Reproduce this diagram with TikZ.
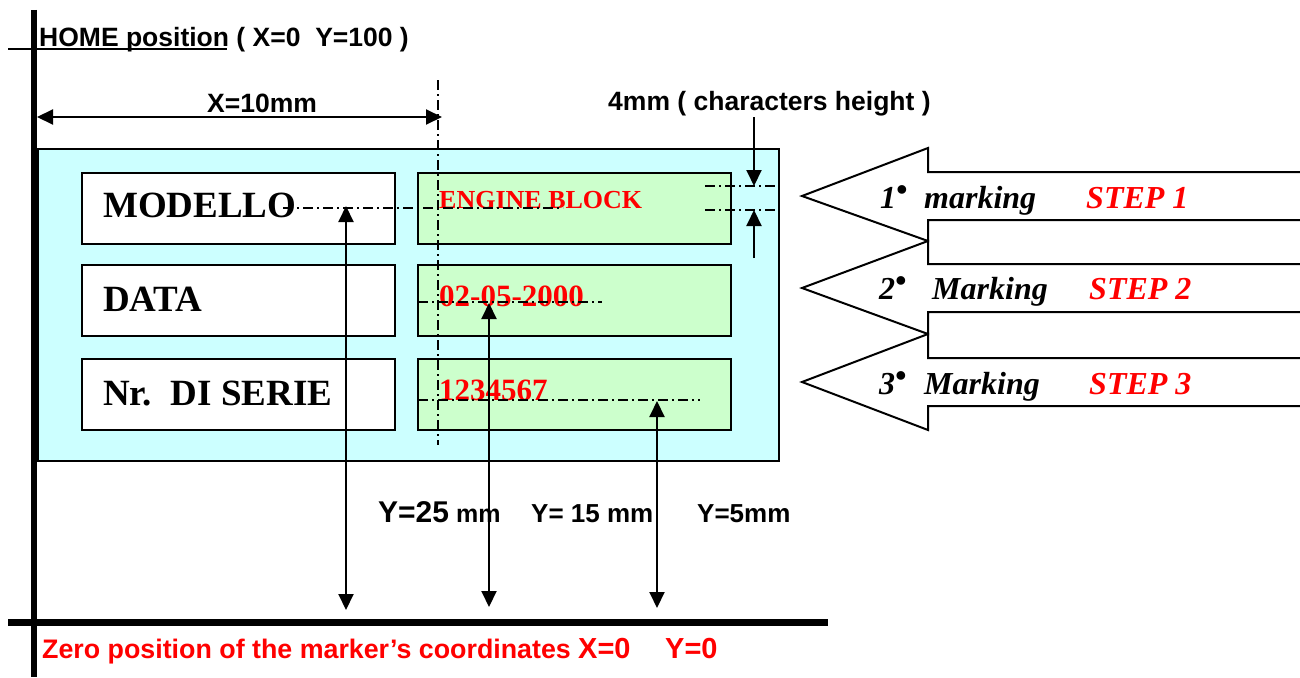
\documentclass[tikz,border=0pt]{standalone}
\usepackage{fontspec}
\setmainfont{Liberation Serif}
\setsansfont{Liberation Sans}
\usetikzlibrary{arrows.meta}
\definecolor{cyanbg}{HTML}{CCFFFF}
\definecolor{greenbg}{HTML}{CCFFCC}
\definecolor{redtxt}{HTML}{FF0000}
\newcommand{\fsz}[1]{\fontsize{#1pt}{#1pt}\selectfont}
\begin{document}
\begin{tikzpicture}[x=1pt,y=-1pt,
  tip/.style={-{Triangle[length=16pt,width=15pt]}},
  dtip/.style={{Triangle[length=16pt,width=15pt]}-{Triangle[length=16pt,width=15pt]}},
  conn/.style={line width=2pt},
  dashdot/.style={line width=1.5pt, dash pattern=on 10pt off 4pt on 2pt off 4pt},
  axisline/.style={line width=7pt},
  panelbox/.style={draw, line width=2pt, fill=cyanbg, inner sep=0, anchor=north west, minimum width=741pt, minimum height=312pt},
  fieldbox/.style={draw, line width=2pt, fill=white, inner sep=0, anchor=north west, minimum width=313pt, minimum height=71pt},
  valbox/.style={fieldbox, fill=greenbg},
  lbl/.style={inner sep=0, anchor=base west},
  fieldtxt/.style={lbl, font=\fsz{37}\bfseries},
  valtxt/.style={lbl, text=redtxt, font=\bfseries},
  sanstxt/.style={lbl, font=\sffamily\bfseries\fsz{26.5}},
  redsans/.style={lbl, text=redtxt, font=\sffamily\bfseries},
  steparrow/.style={line width=2pt, fill=white},
  stepnum/.style={lbl, font=\fsz{32}\bfseries\itshape},
  stepred/.style={lbl, text=redtxt, font=\fsz{32}\bfseries\itshape}
]
\useasboundingbox (0,0) rectangle (1300,677);

% panel and boxes
\node[panelbox] (panel) at (37,148) {};
\node[fieldbox] (f1) at (81,172) {};
\node[fieldbox] (f2) at (81,264) {};
\node[fieldbox] (f3) at (81,358) {};
\node[valbox] (v1) at (417,172) {};
\node[valbox] (v2) at (417,264) {};
\node[valbox] (v3) at (417,358) {};

% field texts
\node[fieldtxt] (t1) at (103,217) {MODELLO};
\node[fieldtxt] (t2) at (103,311) {DATA};
\node[fieldtxt] (t3) at (103,405) {Nr.\ \ DI SERIE};
\node[valtxt, font=\fsz{26}\bfseries] (w1) at (439,208) {ENGINE BLOCK};
\node[valtxt, font=\fsz{31}\bfseries] (w2) at (439,306) {02-05-2000};
\node[valtxt, font=\fsz{31}\bfseries] (w3) at (439,400) {1234567};

% step arrows
\draw[steparrow] (1305,172) -- (928,172) -- (928,148) -- (802,196) -- (928,241) -- (928,220) -- (1305,220);
\draw[steparrow] (1305,264) -- (928,264) -- (928,241) -- (802,288) -- (928,334) -- (928,312) -- (1305,312);
\draw[steparrow] (1305,358) -- (928,358) -- (928,334) -- (802,382) -- (928,430) -- (928,406) -- (1305,406);
\node[stepnum] (n1) at (880,208) {1\raisebox{0.25em}{\textbullet}};
\node[stepnum] (m1) at (924,208) {marking};
\node[stepred] (s1) at (1086,208) {STEP 1};
\node[stepnum] (n2) at (879,299) {2\raisebox{0.25em}{\textbullet}};
\node[stepnum] (m2) at (932,299) {Marking};
\node[stepred] (s2) at (1089,299) {STEP 2};
\node[stepnum] (n3) at (879,394) {3\raisebox{0.25em}{\textbullet}};
\node[stepnum] (m3) at (924,394) {Marking};
\node[stepred] (s3) at (1089,394) {STEP 3};

% sans labels
\node[sanstxt] (home) at (39,47) {HOME position ( X=0\ \ Y=100 )};
\node[sanstxt] (x10) at (207,112) {X=10mm};
\node[sanstxt] (h4) at (608,110) {4mm ( characters height )};
\node[lbl, font=\sffamily\bfseries] (y25) at (378,522) {\fsz{30}Y=25\fsz{25} mm};
\node[lbl, font=\sffamily\bfseries\fsz{26}] (y15) at (531,522) {Y= 15 mm};
\node[lbl, font=\sffamily\bfseries\fsz{26}] (y5) at (697,522) {Y=5mm};
\node[redsans, font=\sffamily\bfseries\fsz{26.8}] (zero) at (42,658) {Zero position of the marker’s coordinates};
\node[redsans, font=\sffamily\bfseries\fsz{29}] (x0) at (578,658) {X=0};
\node[redsans, font=\sffamily\bfseries\fsz{29}] (y0) at (665,658) {Y=0};

% coordinates
\coordinate (homeL) at (8,49);
\coordinate (homeR) at (227,49);
\coordinate (xL) at (37,117);
\coordinate (xR) at (442,117);
\coordinate (vdTop) at (438,80);
\coordinate (vdBot) at (438,445);
\coordinate (d1L) at (283,208);
\coordinate (d1R) at (563,208);
\coordinate (d2L) at (418,302);
\coordinate (d2R) at (602,302);
\coordinate (d3L) at (418,400);
\coordinate (d3R) at (700,400);
\coordinate (h1L) at (705,186);
\coordinate (h1R) at (778,186);
\coordinate (h2L) at (705,210);
\coordinate (h2R) at (778,210);
\coordinate (ha) at (754,117);
\coordinate (hb) at (754,186);
\coordinate (hc) at (754,258);
\coordinate (hd) at (754,210);
\coordinate (a1t) at (346,206);
\coordinate (a1b) at (346,610);
\coordinate (a2t) at (489,303);
\coordinate (a2b) at (489,607);
\coordinate (a3t) at (657,401);
\coordinate (a3b) at (657,608);
\coordinate (axT) at (34,10);
\coordinate (axB) at (34,677);
\coordinate (bxL) at (8,622);
\coordinate (bxR) at (828,622);

% dash-dot guides
\draw[dashdot] (vdTop) -- (vdBot);
\draw[dashdot] (d1L) -- (d1R);
\draw[dashdot] (d2L) -- (d2R);
\draw[dashdot] (d3L) -- (d3R);
\draw[dashdot] (h1L) -- (h1R);
\draw[dashdot] (h2L) -- (h2R);

% dimension arrows
\draw[conn,dtip] (xL) -- (xR);
\draw[conn,tip] (ha) -- (hb);
\draw[conn,tip] (hc) -- (hd);
\draw[conn,dtip] (a1b) -- (a1t);
\draw[conn,dtip] (a2b) -- (a2t);
\draw[conn,dtip] (a3b) -- (a3t);

% axes
\draw[line width=1.5pt] (homeL) -- (homeR);
\draw[line width=6.5pt] (axT) -- (axB);
\draw[axisline] (bxL) -- (bxR);
\end{tikzpicture}
\end{document}
